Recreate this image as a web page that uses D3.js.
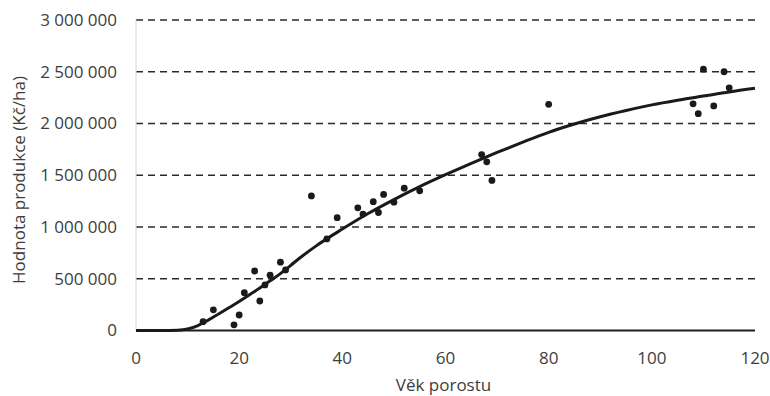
<!DOCTYPE html>
<html>
<head>
<meta charset="utf-8">
<script src="https://cdn.jsdelivr.net/npm/d3@7"></script>
<style>
    body { margin: 0; background: #fff; }
    #chart { width: 770px; height: 396px; }
</style>
</head>
<body>
<div id="chart"></div>
<script>
// Observed stands: age (years) and production value (Kč/ha)
const ages = [13, 15, 19, 20, 21, 23, 24, 25, 26, 28, 29, 34, 37, 39, 43, 44, 46, 47, 48, 50, 52, 55, 67, 68, 69, 80, 108, 109, 110, 112, 114, 115];
const values = [85000, 200000, 55000, 150000, 365000, 575000, 285000, 440000, 535000, 660000, 585000, 1300000, 885000, 1090000, 1185000, 1125000, 1245000, 1140000, 1315000, 1240000, 1375000, 1350000, 1700000, 1630000, 1450000, 2185000, 2190000, 2095000, 2525000, 2170000, 2500000, 2345000];

// Fitted curve
const curveAges = [0, 5, 8, 10, 12, 14, 16, 18, 20, 22, 24, 26, 28, 30, 32, 35, 40, 45, 50, 55, 60, 65, 70, 75, 80, 85, 90, 95, 100, 105, 110, 115, 120];
const curveValues = [0, 0, 3000, 14000, 48000, 100000, 160000, 220000, 280000, 345000, 410000, 480000, 550000, 630000, 710000, 820000, 980000, 1130000, 1265000, 1390000, 1505000, 1615000, 1720000, 1820000, 1915000, 1995000, 2065000, 2125000, 2180000, 2225000, 2265000, 2305000, 2340000];

const xTicks = [0, 20, 40, 60, 80, 100, 120];
const yTicks = [0, 500000, 1000000, 1500000, 2000000, 2500000, 3000000];

const xTitle = "Věk porostu";
const yTitle = "Hodnota produkce (Kč/ha)";

const width = 770, height = 396;
const margin = { top: 20, right: 15, bottom: 65.5, left: 136 };
const textColor = "#3d3d3d";
const font = "'Open Sans', sans-serif";

const svg = d3.select("#chart")
    .append("svg")
    .attr("width", width)
    .attr("height", height);

const x = d3.scaleLinear().domain([0, 120]).range([margin.left, width - margin.right]);
const y = d3.scaleLinear().domain([0, 3000000]).range([height - margin.bottom, margin.top]);

const fmt = v => d3.format(",")(v).replace(/,/g, " ");

// Dashed gridlines
svg.append("g")
    .selectAll("line")
    .data(yTicks.filter(d => d > 0))
    .join("line")
    .attr("x1", x(0))
    .attr("x2", x(120))
    .attr("y1", d => y(d))
    .attr("y2", d => y(d))
    .attr("stroke", "#2a2a2a")
    .attr("stroke-width", 1.4)
    .attr("stroke-dasharray", "7,5");

// Light vertical axis line
svg.append("line")
    .attr("x1", x(0)).attr("x2", x(0))
    .attr("y1", y(3000000)).attr("y2", y(0))
    .attr("stroke", "#d4d4d4")
    .attr("stroke-width", 1);

// Y tick labels
svg.append("g")
    .selectAll("text")
    .data(yTicks)
    .join("text")
    .attr("x", margin.left - 19)
    .attr("y", d => y(d))
    .attr("dy", "0.35em")
    .attr("text-anchor", "end")
    .attr("fill", textColor)
    .style("font-family", font)
    .style("font-size", "17px")
    .text(fmt);

// X tick labels
svg.append("g")
    .selectAll("text")
    .data(xTicks)
    .join("text")
    .attr("x", d => x(d))
    .attr("y", y(0) + 28)
    .attr("dy", "0.35em")
    .attr("text-anchor", "middle")
    .attr("fill", textColor)
    .style("font-family", font)
    .style("font-size", "17px")
    .text(d => d);

// Axis titles
svg.append("text")
    .attr("x", (x(0) + x(120)) / 2 - 2)
    .attr("y", 391)
    .attr("text-anchor", "middle")
    .attr("fill", textColor)
    .style("font-family", font)
    .style("font-size", "17px")
    .text(xTitle);

svg.append("text")
    .attr("transform", `translate(25,180) rotate(-90)`)
    .attr("text-anchor", "middle")
    .attr("fill", textColor)
    .style("font-family", font)
    .style("font-size", "17px")
    .text(yTitle);

// Dark x axis line
svg.append("line")
    .attr("x1", x(0)).attr("x2", x(120))
    .attr("y1", y(0)).attr("y2", y(0))
    .attr("stroke", "#1e1e1e")
    .attr("stroke-width", 2.2);

// Fitted curve
const curveData = curveAges.map((a, i) => ({ age: a, value: curveValues[i] }));
const line = d3.line()
    .x(d => x(d.age))
    .y(d => y(d.value))
    .curve(d3.curveMonotoneX);

svg.append("path")
    .datum(curveData)
    .attr("fill", "none")
    .attr("stroke", "#1a1a1a")
    .attr("stroke-width", 3)
    .attr("d", line);

// Observed points
const points = ages.map((a, i) => ({ age: a, value: values[i] }));
svg.append("g")
    .selectAll("circle")
    .data(points)
    .join("circle")
    .attr("cx", d => x(d.age))
    .attr("cy", d => y(d.value))
    .attr("r", 3.4)
    .attr("fill", "#1a1a1a");
</script>
</body>
</html>
